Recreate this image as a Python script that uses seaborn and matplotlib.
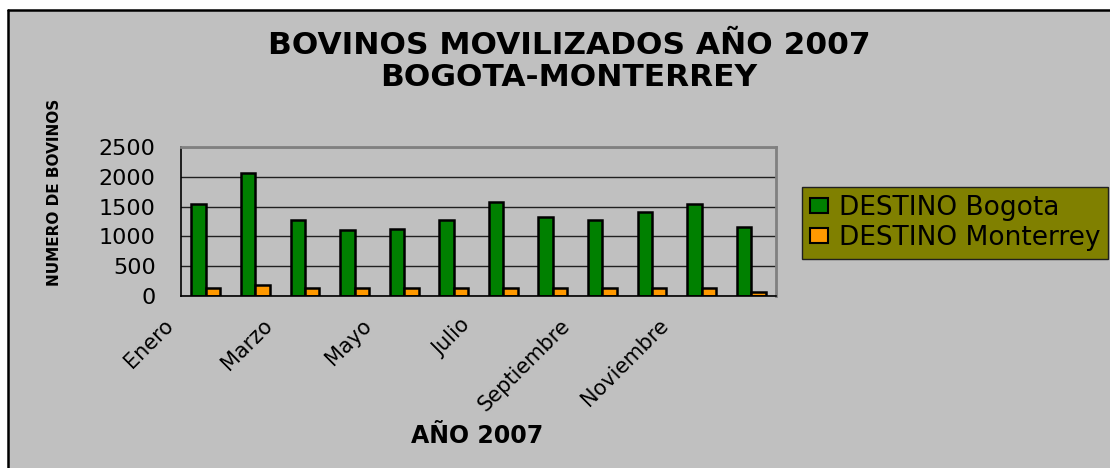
"""
Bovinos movilizados 2007 - Bogota / Monterrey
"""

import numpy as np
import pandas as pd
import matplotlib
matplotlib.use("Agg")
import matplotlib.pyplot as plt
import matplotlib.transforms as mtransforms
from matplotlib.lines import Line2D
from matplotlib.patches import Patch, Rectangle
import seaborn as sns

MONTHS = ["Enero", "Febrero", "Marzo", "Abril", "Mayo", "Junio", "Julio",
          "Agosto", "Septiembre", "Octubre", "Noviembre", "Diciembre"]
BOGOTA = [1550, 2070, 1270, 1100, 1130, 1270, 1575, 1320, 1270, 1410, 1550, 1155]
MONTERREY = [130, 185, 130, 130, 130, 130, 130, 130, 130, 130, 130, 75]
SERIES = ["DESTINO Bogota", "DESTINO Monterrey"]
COLORS = {"DESTINO Bogota": "#008000", "DESTINO Monterrey": "#FF9900"}
Y_TICKS = [0, 500, 1000, 1500, 2000, 2500]

GRAY = "#C0C0C0"

sns.set_style("white")
plt.rcParams["font.family"] = ["DejaVu Sans"]
plt.rcParams.update({"text.color": "black", "axes.labelcolor": "black",
                     "xtick.color": "black", "ytick.color": "black"})

df = pd.DataFrame({
    "mes": MONTHS * 2,
    "destino": [SERIES[0]] * len(MONTHS) + [SERIES[1]] * len(MONTHS),
    "bovinos": BOGOTA + MONTERREY,
})

fig = plt.figure(figsize=(11.1, 4.68), dpi=100, facecolor="white")
# chart area: grey panel whose border is only visible at top and left
x0, y1 = 8 / 1110, 1 - 10 / 468
fig.add_artist(Rectangle((x0, 0), 1 - x0, y1, transform=fig.transFigure,
                         facecolor=GRAY, edgecolor="none", zorder=0))
fig.add_artist(Line2D([x0, 1], [y1, y1], transform=fig.transFigure,
                      color="black", linewidth=1.8, zorder=0.1))
fig.add_artist(Line2D([x0, x0], [0, y1], transform=fig.transFigure,
                      color="black", linewidth=1.8, zorder=0.1))

ax = fig.add_axes([181 / 1110, 1 - 296 / 468, 595 / 1110, 149 / 468])
ax.set_facecolor(GRAY)

sns.barplot(data=df, x="mes", y="bovinos", hue="destino", order=MONTHS,
            hue_order=SERIES, palette=COLORS, saturation=1, width=0.58,
            errorbar=None, edgecolor="black", linewidth=1.8, legend=False, ax=ax)

# y axis
ax.set_ylim(0, 2500)
ax.set_yticks(Y_TICKS)
ax.yaxis.grid(True, color="#202020", linewidth=1)
ax.set_axisbelow(True)
ax.tick_params(axis="y", length=7.2, width=1, direction="out",
               pad=11, labelsize=16)

# x axis: ticks between categories, labels every other month
ax.set_xlim(-0.5, 11.5)
ax.set_xticks(range(0, 12, 2))
ax.set_xticklabels(MONTHS[::2], rotation=45, ha="right", va="center",
                   rotation_mode="anchor", fontsize=15)
ax.set_xticks(np.arange(-0.5, 12, 1), minor=True)
ax.tick_params(axis="x", which="major", length=0, pad=19)
ax.tick_params(axis="x", which="minor", length=5, width=1, direction="out")
offset = mtransforms.ScaledTranslation(-36 / 100, 0, fig.dpi_scale_trans)
for lbl in ax.get_xticklabels():
    lbl.set_transform(lbl.get_transform() + offset)

for side in ["top", "right"]:
    ax.spines[side].set_color("#808080")
    ax.spines[side].set_linewidth(2)
for side in ["left", "bottom"]:
    ax.spines[side].set_color("black")
    ax.spines[side].set_linewidth(1.2)

ax.set_ylabel("NUMERO DE BOVINOS", fontsize=11, fontweight="bold")
ax.yaxis.set_label_coords(-0.2, 0.698)
ax.set_xlabel("AÑO 2007", fontsize=17, fontweight="bold")
ax.xaxis.set_label_coords(0.497, -0.86)

fig.suptitle("BOVINOS MOVILIZADOS AÑO 2007\nBOGOTA-MONTERREY",
             x=569 / 1110, y=1 - 31 / 468, va="top", linespacing=1.15,
             fontsize=22.5, fontweight="bold")

handles = [Patch(facecolor=COLORS[s], edgecolor="black", linewidth=1.5) for s in SERIES]
leg = ax.legend(handles, SERIES, loc="upper left",
                bbox_to_anchor=(802 / 1110, 1 - 187 / 468),
                bbox_transform=fig.transFigure, frameon=True, fancybox=False,
                facecolor="#808000", edgecolor="#202020", framealpha=1,
                fontsize=19, handlelength=0.7, handleheight=0.45,
                handletextpad=0.4, borderpad=0.3, labelspacing=0.15,
                borderaxespad=0)
leg.get_frame().set_linewidth(1)

fig.savefig("out.png", dpi=100)
